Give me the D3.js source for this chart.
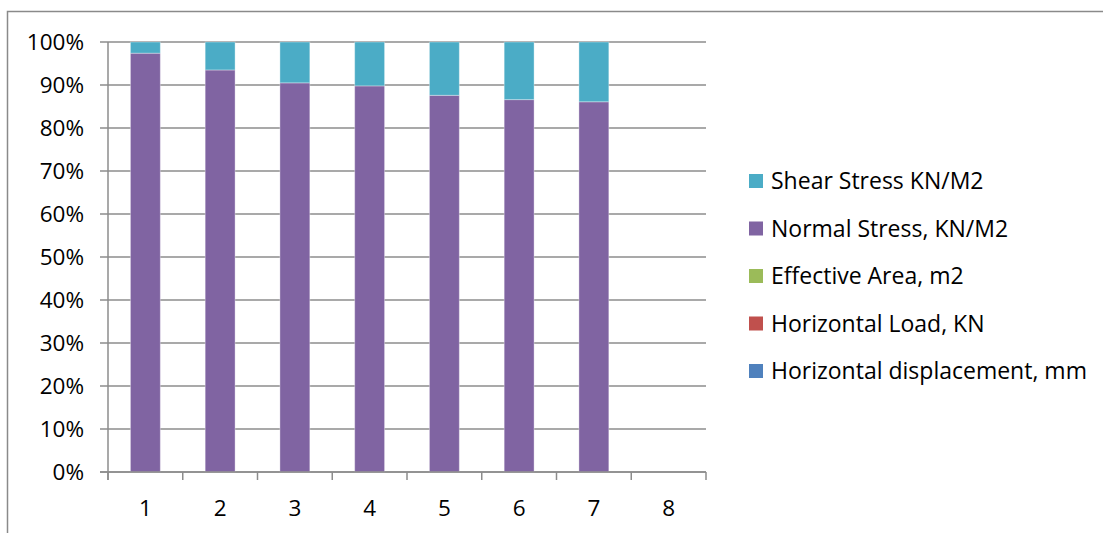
<!DOCTYPE html>
<html><head><meta charset="utf-8">
<script src="https://cdn.jsdelivr.net/npm/d3@7"></script>
<style>body{margin:0;background:#fff}svg{display:block}text{font-family:"Open Sans",sans-serif;fill:#000}</style>
</head><body>
<svg id="c" width="1103" height="533"></svg>
<script>
const categories = ["1","2","3","4","5","6","7","8"];
const horizontalDisplacement = [0,0,0,0,0,0,0,0];
const horizontalLoad = [0,0,0,0,0,0,0,0];
const effectiveArea = [0,0,0,0,0,0,0,0];
const normalStress = [97.4,93.5,90.5,89.8,87.6,86.6,86.1,0];
const shearStress = [2.6,6.5,9.5,10.2,12.4,13.4,13.9,0];
const seriesNames = ["Horizontal displacement, mm","Horizontal Load, KN","Effective Area, m2","Normal Stress, KN/M2","Shear Stress KN/M2"];
const seriesColors = ["#4F81BD","#C0504D","#9BBB59","#8064A2","#4BACC6"];
const yTicks = [0,0.1,0.2,0.3,0.4,0.5,0.6,0.7,0.8,0.9,1];

const seriesData = [horizontalDisplacement,horizontalLoad,effectiveArea,normalStress,shearStress];
const rows = categories.map((c,i)=>{const r={cat:c};seriesNames.forEach((n,k)=>r[n]=seriesData[k][i]);return r;});
const stacked = d3.stack().keys(seriesNames).offset(d3.stackOffsetExpand)(rows);

const svg = d3.select("#c");
const gridColor = "#8c8c8c";
// outer chart border
svg.append("path").attr("d","M7.5,533 V11.5 H1103").attr("fill","none").attr("stroke","#8a8a8a").attr("stroke-width",1.5);

const x = d3.scaleBand().domain(categories).range([108,706]).paddingInner(0.6).paddingOuter(0.3);
const y = d3.scaleLinear().domain([0,1]).range([472,42]);

// gridlines + y ticks
svg.append("g").selectAll("line").data(yTicks).join("line")
  .attr("x1",100).attr("x2",706).attr("y1",d=>y(d)).attr("y2",d=>y(d))
  .attr("stroke",gridColor).attr("stroke-width",1.5);
svg.append("g").selectAll("text").data(yTicks).join("text")
  .attr("x",84).attr("y",d=>y(d)).attr("dy","0.36em").attr("text-anchor","end")
  .attr("font-size",22.5).text(d3.format(".0%"));

// bars
svg.append("g").selectAll("g").data(stacked).join("g")
  .attr("fill",(d,i)=>seriesColors[i])
  .selectAll("rect").data(d=>d.filter(v=>v[1]-v[0]>0 && !isNaN(v[1]))).join("rect")
  .attr("x",d=>x(d.data.cat)).attr("width",x.bandwidth())
  .attr("y",d=>y(d[1])).attr("height",d=>y(d[0])-y(d[1]))
  .attr("stroke","#fff").attr("stroke-opacity",0.35).attr("stroke-width",1);

// axes lines
svg.append("line").attr("x1",108).attr("x2",108).attr("y1",42).attr("y2",480).attr("stroke",gridColor).attr("stroke-width",1.5);
svg.append("line").attr("x1",100).attr("x2",706).attr("y1",472).attr("y2",472).attr("stroke",gridColor).attr("stroke-width",1.5);
const bounds = d3.range(categories.length+1).map(i=>108+i*(598/categories.length));
svg.append("g").selectAll("line").data(bounds).join("line")
  .attr("x1",d=>d).attr("x2",d=>d).attr("y1",472).attr("y2",480)
  .attr("stroke",gridColor).attr("stroke-width",1.5);
svg.append("g").selectAll("text").data(categories).join("text")
  .attr("x",d=>x(d)+x.bandwidth()/2).attr("y",508).attr("dy","0.36em").attr("text-anchor","middle")
  .attr("font-size",22.5).text(d=>d);

// legend (top to bottom: reversed order)
const legendItems = seriesNames.map((n,i)=>({n,c:seriesColors[i]})).reverse();
const ly = d3.scalePoint().domain(legendItems.map(d=>d.n)).range([181,371]);
const lg = svg.append("g").selectAll("g").data(legendItems).join("g")
  .attr("transform",d=>`translate(749,${ly(d.n)})`);
lg.append("rect").attr("x",0).attr("y",-7).attr("width",14).attr("height",14).attr("fill",d=>d.c);
lg.append("text").attr("x",22).attr("dy","0.36em").attr("font-size",23).text(d=>d.n);
</script>
</body></html>
